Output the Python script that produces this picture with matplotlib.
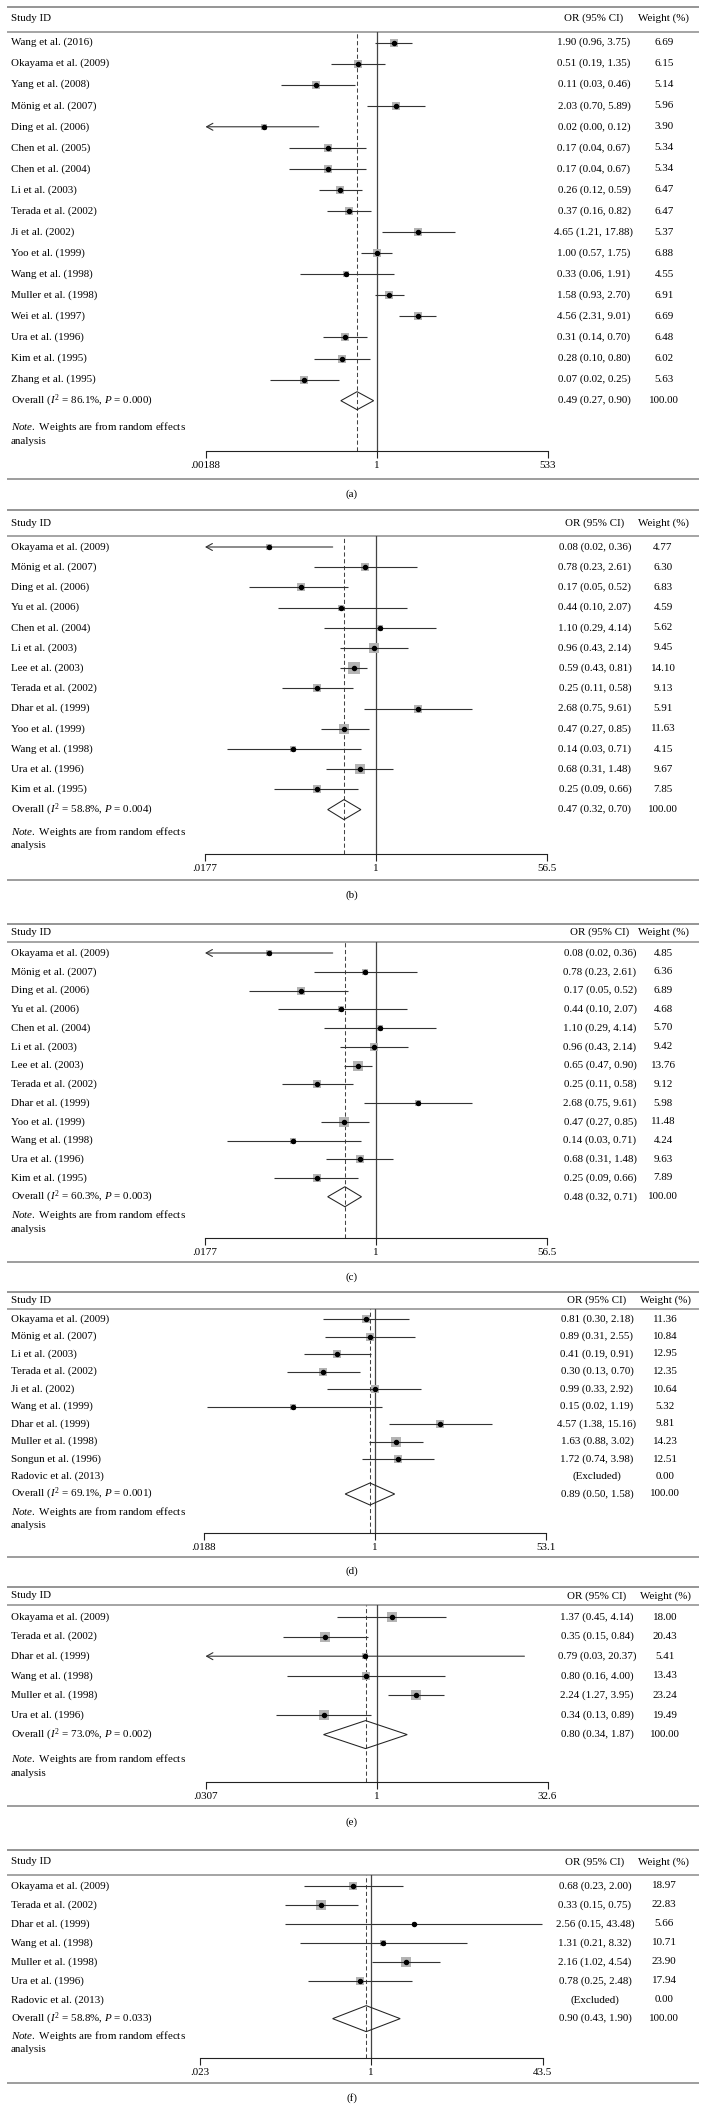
import matplotlib
matplotlib.use('Agg')
import matplotlib.pyplot as plt
from matplotlib.patches import Polygon
from matplotlib.ticker import NullLocator, FixedLocator, FixedFormatter
import numpy as np

plt.rcParams['font.family'] = ['Liberation Serif', 'DejaVu Serif']
plt.rcParams['mathtext.fontset'] = 'custom'
plt.rcParams['mathtext.rm'] = 'Liberation Serif'
plt.rcParams['mathtext.it'] = 'Liberation Serif:italic'
plt.rcParams['mathtext.bf'] = 'Liberation Serif:bold'

# ---------------- DATA ----------------
a_studies = ["Wang et al. (2016)", "Okayama et al. (2009)", "Yang et al. (2008)", "Mönig et al. (2007)",
             "Ding et al. (2006)", "Chen et al. (2005)", "Chen et al. (2004)", "Li et al. (2003)",
             "Terada et al. (2002)", "Ji et al. (2002)", "Yoo et al. (1999)", "Wang et al. (1998)",
             "Muller et al. (1998)", "Wei et al. (1997)", "Ura et al. (1996)", "Kim et al. (1995)",
             "Zhang et al. (1995)"]
a_or = [1.90, 0.51, 0.11, 2.03, 0.016, 0.17, 0.17, 0.26, 0.37, 4.65, 1.00, 0.33, 1.58, 4.56, 0.31, 0.28, 0.07]
a_lo = [0.96, 0.19, 0.03, 0.70, 0.001, 0.04, 0.04, 0.12, 0.16, 1.21, 0.57, 0.06, 0.93, 2.31, 0.14, 0.10, 0.02]
a_hi = [3.75, 1.35, 0.46, 5.89, 0.12, 0.67, 0.67, 0.59, 0.82, 17.88, 1.75, 1.91, 2.70, 9.01, 0.70, 0.80, 0.25]
a_wt = [6.69, 6.15, 5.14, 5.96, 3.90, 5.34, 5.34, 6.47, 6.47, 5.37, 6.88, 4.55, 6.91, 6.69, 6.48, 6.02, 5.63]
a_overall = [0.49, 0.27, 0.90]
a_i2, a_p = 86.1, "0.000"
a_xmax = 533
a_ticklabels = [".00188", "1", "533"]

b_studies = ["Okayama et al. (2009)", "Mönig et al. (2007)", "Ding et al. (2006)", "Yu et al. (2006)",
             "Chen et al. (2004)", "Li et al. (2003)", "Lee et al. (2003)", "Terada et al. (2002)",
             "Dhar et al. (1999)", "Yoo et al. (1999)", "Wang et al. (1998)", "Ura et al. (1996)",
             "Kim et al. (1995)"]
b_or = [0.08, 0.78, 0.17, 0.44, 1.10, 0.96, 0.59, 0.25, 2.68, 0.47, 0.14, 0.68, 0.25]
b_lo = [0.017, 0.23, 0.05, 0.10, 0.29, 0.43, 0.43, 0.11, 0.75, 0.27, 0.03, 0.31, 0.09]
b_hi = [0.36, 2.61, 0.52, 2.07, 4.14, 2.14, 0.81, 0.58, 9.61, 0.85, 0.71, 1.48, 0.66]
b_wt = [4.77, 6.30, 6.83, 4.59, 5.62, 9.45, 14.10, 9.13, 5.91, 11.63, 4.15, 9.67, 7.85]
b_overall = [0.47, 0.32, 0.70]
b_i2, b_p = 58.8, "0.004"
b_xmax = 56.5
b_ticklabels = [".0177", "1", "56.5"]

c_studies = list(b_studies)
c_or = [0.08, 0.78, 0.17, 0.44, 1.10, 0.96, 0.65, 0.25, 2.68, 0.47, 0.14, 0.68, 0.25]
c_lo = [0.017, 0.23, 0.05, 0.10, 0.29, 0.43, 0.47, 0.11, 0.75, 0.27, 0.03, 0.31, 0.09]
c_hi = [0.36, 2.61, 0.52, 2.07, 4.14, 2.14, 0.90, 0.58, 9.61, 0.85, 0.71, 1.48, 0.66]
c_wt = [4.85, 6.36, 6.89, 4.68, 5.70, 9.42, 13.76, 9.12, 5.98, 11.48, 4.24, 9.63, 7.89]
c_overall = [0.48, 0.32, 0.71]
c_i2, c_p = 60.3, "0.003"
c_xmax = 56.5
c_ticklabels = [".0177", "1", "56.5"]

d_studies = ["Okayama et al. (2009)", "Mönig et al. (2007)", "Li et al. (2003)", "Terada et al. (2002)",
             "Ji et al. (2002)", "Wang et al. (1999)", "Dhar et al. (1999)", "Muller et al. (1998)",
             "Songun et al. (1996)", "Radovic et al. (2013)"]
d_or = [0.81, 0.89, 0.41, 0.30, 0.99, 0.15, 4.57, 1.63, 1.72, np.nan]
d_lo = [0.30, 0.31, 0.19, 0.13, 0.33, 0.02, 1.38, 0.88, 0.74, np.nan]
d_hi = [2.18, 2.55, 0.91, 0.70, 2.92, 1.19, 15.16, 3.02, 3.98, np.nan]
d_wt = [11.36, 10.84, 12.95, 12.35, 10.64, 5.32, 9.81, 14.23, 12.51, 0.00]
d_overall = [0.89, 0.50, 1.58]
d_i2, d_p = 69.1, "0.001"
d_xmax = 53.1
d_ticklabels = [".0188", "1", "53.1"]

e_studies = ["Okayama et al. (2009)", "Terada et al. (2002)", "Dhar et al. (1999)", "Wang et al. (1998)",
             "Muller et al. (1998)", "Ura et al. (1996)"]
e_or = [1.37, 0.35, 0.79, 0.80, 2.24, 0.34]
e_lo = [0.45, 0.15, 0.03, 0.16, 1.27, 0.13]
e_hi = [4.14, 0.84, 20.37, 4.00, 3.95, 0.89]
e_wt = [18.00, 20.43, 5.41, 13.43, 23.24, 19.49]
e_overall = [0.80, 0.34, 1.87]
e_i2, e_p = 73.0, "0.002"
e_xmax = 32.6
e_ticklabels = [".0307", "1", "32.6"]

f_studies = ["Okayama et al. (2009)", "Terada et al. (2002)", "Dhar et al. (1999)", "Wang et al. (1998)",
             "Muller et al. (1998)", "Ura et al. (1996)", "Radovic et al. (2013)"]
f_or = [0.68, 0.33, 2.56, 1.31, 2.16, 0.78, np.nan]
f_lo = [0.23, 0.15, 0.15, 0.21, 1.02, 0.25, np.nan]
f_hi = [2.00, 0.75, 43.48, 8.32, 4.54, 2.48, np.nan]
f_wt = [18.97, 22.83, 5.66, 10.71, 23.90, 17.94, 0.00]
f_overall = [0.90, 0.43, 1.90]
f_i2, f_p = 58.8, "0.033"
f_xmax = 43.5
f_ticklabels = [".023", "1", "43.5"]

captions = ["(a)", "(b)", "(c)", "(d)", "(e)", "(f)"]

# ---------------- LAYOUT (pixels) ----------------
W, H = 702, 2121
layout = [
    dict(top=7, hdr=18.5, hline=31.5, row0=42.5, dy=21.07, note=427, axis=450.5, bottom=479, cap=494,
         axL=205.5, axR=547.5, orx=594, wtx=664, boxk=3.12, dh=9),
    dict(top=510, hdr=523, hline=536, row0=547, dy=20.2, note=832, axis=854, bottom=880, cap=895,
         axL=205.0, axR=547.0, orx=595, wtx=663, boxk=2.93, dh=10),
    dict(top=924, hdr=932.5, hline=942, row0=953, dy=18.75, note=1215, axis=1238, bottom=1262, cap=1277,
         axL=205.0, axR=547.0, orx=600, wtx=663, boxk=2.70, dh=10),
    dict(top=1292, hdr=1300.5, hline=1309, row0=1319, dy=17.5, note=1512, axis=1533, bottom=1557, cap=1571,
         axL=204.0, axR=546.0, orx=597, wtx=665, boxk=2.39, dh=11),
    dict(top=1587, hdr=1596, hline=1605, row0=1617, dy=19.6, note=1759, axis=1782, bottom=1806, cap=1822,
         axL=205.5, axR=547.5, orx=597, wtx=665, boxk=2.28, dh=14),
    dict(top=1850, hdr=1862, hline=1875, row0=1886, dy=18.95, note=2036, axis=2058, bottom=2083, cap=2098,
         axL=199.5, axR=542.5, orx=595, wtx=664, boxk=2.05, dh=13),
]

panels = [
    (a_studies, a_or, a_lo, a_hi, a_wt, a_overall, a_i2, a_p, a_xmax, a_ticklabels),
    (b_studies, b_or, b_lo, b_hi, b_wt, b_overall, b_i2, b_p, b_xmax, b_ticklabels),
    (c_studies, c_or, c_lo, c_hi, c_wt, c_overall, c_i2, c_p, c_xmax, c_ticklabels),
    (d_studies, d_or, d_lo, d_hi, d_wt, d_overall, d_i2, d_p, d_xmax, d_ticklabels),
    (e_studies, e_or, e_lo, e_hi, e_wt, e_overall, e_i2, e_p, e_xmax, e_ticklabels),
    (f_studies, f_or, f_lo, f_hi, f_wt, f_overall, f_i2, f_p, f_xmax, f_ticklabels),
]

FS = 7.9
PX2PT = 72.0 / 100.0
RULE_C = '#8c8c8c'
BOX_C = '#b4b4b4'
LINE_C = '#333333'

fig = plt.figure(figsize=(W / 100, H / 100), dpi=100)
base = fig.add_axes([0, 0, 1, 1])
base.set_xlim(0, W)
base.set_ylim(H, 0)
base.axis('off')

for (studies, ors, los, his, wts, ov, i2, pval, xmax, tlabels), L, cap in zip(panels, layout, captions):
    xmin = 1.0 / xmax
    # rules
    for yy, lw in [(L['top'], 1.3), (L['hline'], 1.1), (L['bottom'], 1.2)]:
        base.plot([7, 699], [yy, yy], color=RULE_C, lw=lw, solid_capstyle='butt')
    base.text(11, L['hdr'], "Study ID", fontsize=FS, ha='left', va='center')
    base.text(L['orx'], L['hdr'], "OR (95% CI)", fontsize=FS, ha='center', va='center')
    base.text(L['wtx'], L['hdr'], "Weight (%)", fontsize=FS, ha='center', va='center')
    base.text(352, L['cap'], cap, fontsize=FS, ha='center', va='center')

    # plot axes
    ax = fig.add_axes([L['axL'] / W, 1 - L['axis'] / H, (L['axR'] - L['axL']) / W,
                       (L['axis'] - L['hline']) / H])
    ax.set_xscale('log')
    ax.set_xlim(xmin, xmax)
    ax.set_ylim(L['axis'], L['hline'])
    ax.patch.set_alpha(0)
    for s in ['top', 'right', 'left']:
        ax.spines[s].set_visible(False)
    ax.spines['bottom'].set_linewidth(0.8)
    ax.spines['bottom'].set_color('#222222')
    ax.set_yticks([])
    ax.xaxis.set_major_locator(FixedLocator([xmin, 1, xmax]))
    ax.xaxis.set_major_formatter(FixedFormatter(tlabels))
    ax.xaxis.set_minor_locator(NullLocator())
    ax.tick_params(axis='x', direction='out', length=5, width=0.8, pad=2.2, labelsize=FS,
                   color='#222222')

    ax.axvline(1, color='#444444', lw=0.9, zorder=1)
    ax.axvline(ov[0], color='#444444', lw=0.75, ls=(0, (4, 2.5)), zorder=1)

    n = len(studies)
    for i in range(n):
        y = L['row0'] + i * L['dy']
        base.text(11, y, studies[i], fontsize=FS, ha='left', va='center')
        if np.isnan(ors[i]):
            txt = "(Excluded)"
        else:
            txt = f"{ors[i]:.2f} ({los[i]:.2f}, {his[i]:.2f})"
            side = L['boxk'] * np.sqrt(wts[i]) * PX2PT
            ax.scatter([ors[i]], [y], s=side ** 2, marker='s', color=BOX_C, linewidths=0,
                       zorder=2, clip_on=False)
            lo_c = max(los[i], xmin)
            hi_c = min(his[i], xmax)
            if los[i] < xmin:
                ax.annotate('', xy=(lo_c, y), xytext=(hi_c, y),
                            arrowprops=dict(arrowstyle='->,head_length=0.45,head_width=0.25',
                                            lw=0.8, color=LINE_C, shrinkA=0, shrinkB=0),
                            zorder=3)
            else:
                ax.plot([lo_c, hi_c], [y, y], color=LINE_C, lw=0.8, zorder=3,
                        solid_capstyle='butt', clip_on=False)
            ax.plot([ors[i]], [y], marker='o', ms=2.9, color='black', zorder=4, clip_on=False)
        base.text(L['orx'], y, txt, fontsize=FS, ha='center', va='center')
        base.text(L['wtx'], y, f"{wts[i]:.2f}", fontsize=FS, ha='center', va='center')

    # overall
    y = L['row0'] + n * L['dy']
    base.text(11, y, f"Overall ($I^2$ = {i2:.1f}%, $P$ = {pval})", fontsize=FS, ha='left', va='center')
    base.text(L['orx'], y, f"{ov[0]:.2f} ({ov[1]:.2f}, {ov[2]:.2f})", fontsize=FS, ha='center', va='center')
    base.text(L['wtx'], y, f"{100:.2f}", fontsize=FS, ha='center', va='center')
    dh = L['dh']
    poly = Polygon([[ov[1], y], [ov[0], y - dh], [ov[2], y], [ov[0], y + dh]], closed=True,
                   facecolor='none', edgecolor='#222222', lw=0.75, zorder=5, clip_on=False)
    ax.add_patch(poly)

    base.text(11, L['note'], r"$\mathit{Note.}$ Weights are from random effects", fontsize=FS,
              ha='left', va='center')
    base.text(11, L['note'] + 14, "analysis", fontsize=FS, ha='left', va='center')

fig.savefig('out.png', dpi=100)
